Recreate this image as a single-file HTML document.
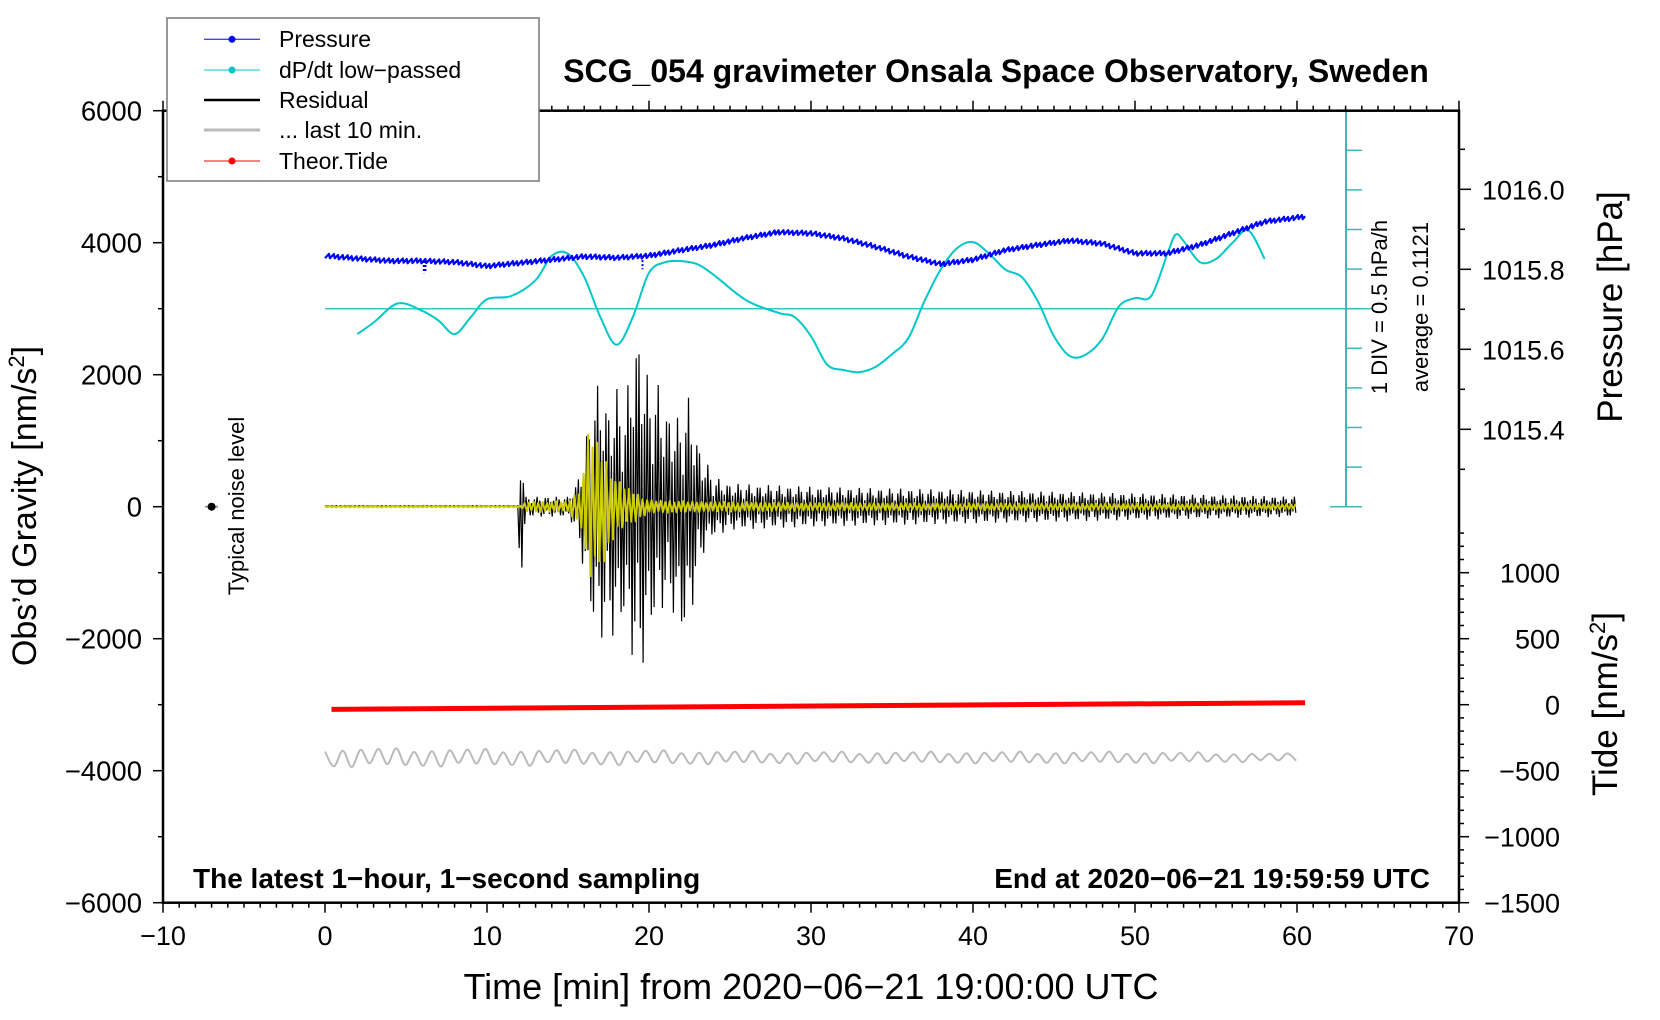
<!DOCTYPE html>
<html><head><meta charset="utf-8"><style>
html,body{margin:0;padding:0;background:#fff;}
svg{display:block;font-family:"Liberation Sans",sans-serif;}
</style></head><body>
<svg id="chart" width="1660" height="1020" viewBox="0 0 1660 1020">
<g id="marks"></g>
<g id="axes"></g>
</svg>
<script>
// ---- data ----
var presT = [0,2,4,6,8,10,12,14,16,18,20,22,24,26,28,30,32,34,36,38,40,42,44,46,48,50,52,54,56,58,60.5];
var presV = [1015.834,1015.827,1015.821,1015.821,1015.818,1015.808,1015.816,1015.824,1015.832,1015.829,1015.834,1015.848,1015.861,1015.879,1015.893,1015.890,1015.877,1015.856,1015.832,1015.813,1015.824,1015.848,1015.861,1015.872,1015.864,1015.840,1015.840,1015.861,1015.890,1015.919,1015.932];
var spikeT = [6.1,6.2,13.1,16.2,19.6];
var spikeV = [1015.790,1015.795,1015.810,1015.822,1015.800];
var dpT = [2,3,4.5,6,7,8,9,10,11.5,13,14,15,16,17,18,19,20,21,22,23,24,26,28,29,30,31,32,33,34,35,36,37,38,39,40,41,42,43,44,45,46,47,48,49,50,51,52,52.5,53,54,55,56,57,58];
var dpV = [-0.208,-0.062,0.179,0.085,-0.035,-0.208,0.005,0.232,0.272,0.472,0.780,0.806,0.513,0.005,-0.342,0.005,0.566,0.699,0.713,0.673,0.539,0.219,0.059,0.005,-0.235,-0.595,-0.662,-0.689,-0.622,-0.462,-0.262,0.206,0.606,0.873,0.953,0.806,0.606,0.513,0.206,-0.235,-0.489,-0.462,-0.262,0.139,0.246,0.272,0.806,1.047,0.967,0.700,0.740,0.940,1.100,0.740];
var resT  = [0,11.9,12.0,12.2,12.4,15,15.5,16,16.5,17,17.5,18,18.5,19,19.5,20,20.5,21,21.5,22,22.5,23,23.5,24,25,30,40,50,60];
var resUp = [15,15,900,700,150,150,350,800,1700,1900,1500,1800,1400,2500,2700,1800,1900,1500,1400,1300,1700,1000,700,450,350,300,250,200,150];
var resLo = [15,15,-1000,-900,-150,-150,-350,-1000,-1800,-2000,-1900,-2000,-1700,-2300,-2500,-2000,-1600,-1500,-1600,-2000,-1800,-1000,-600,-450,-350,-300,-250,-200,-150];
var yelT  = [0,12,12.5,15,15.8,16.3,17,18,19,20,23,30,60];
var yelA  = [10,10,80,80,300,1200,950,400,250,100,80,60,40];
var grayT = [0,5,10,20,30,40,50,60];
var grayA = [150,140,130,110,90,90,90,60];
var grayBase = -3800;
var tideT = [0.4,60.5];
var tideV = [-35,15];
var xTicks = [-10,0,10,20,30,40,50,60,70];
var gTicks = [6000,4000,2000,0,-2000,-4000,-6000];
var pTicks = [1016.0,1015.8,1015.6,1015.4];
var tTicks = [1000,500,0,-500,-1000,-1500];

// ---- scales ----
function X(t){return 163+(t+10)*16.2;}
function Yg(g){return 506.7-g*0.066;}
function Yp(p){return 189.3+(1016-p)*400;}
function Yd(v){return 308.7-(v-0.1121)/0.5*39.6;}
function Yt(v){return 704.7-v*0.132;}
function interp(ts,vs,t){if(t<=ts[0])return vs[0];for(var i=1;i<ts.length;i++){if(t<=ts[i]){var f=(t-ts[i-1])/(ts[i]-ts[i-1]);return vs[i-1]+f*(vs[i]-vs[i-1]);}}return vs[vs.length-1];}
var NS="http://www.w3.org/2000/svg";
var marks=document.getElementById('marks'), axes=document.getElementById('axes');
function el(tag,attrs,parent){var e=document.createElementNS(NS,tag);for(var k in attrs)e.setAttribute(k,attrs[k]);(parent||marks).appendChild(e);return e;}
function smooth(pts){var d='M'+pts[0][0].toFixed(1)+','+pts[0][1].toFixed(1);for(var i=0;i<pts.length-1;i++){var p0=pts[Math.max(i-1,0)],p1=pts[i],p2=pts[i+1],p3=pts[Math.min(i+2,pts.length-1)];d+=' C'+(p1[0]+(p2[0]-p0[0])/6).toFixed(1)+','+(p1[1]+(p2[1]-p0[1])/6).toFixed(1)+' '+(p2[0]-(p3[0]-p1[0])/6).toFixed(1)+','+(p2[1]-(p3[1]-p1[1])/6).toFixed(1)+' '+p2[0].toFixed(1)+','+p2[1].toFixed(1);}return d;}

// cyan center line
var cl=el('line',{x1:X(0),x2:1372,y1:Yd(0.1121),y2:Yd(0.1121),stroke:'#3cc4c4','stroke-width':1.5});



// cyan dP/dt
var dpPts=dpT.map(function(t,i){return [X(t),Yd(dpV[i])];});
var dp=el('path',{d:smooth(dpPts),fill:'none',stroke:'#00c8c8','stroke-width':2});



// pressure
var pPts=[],kk=0;for(var t=0;t<=60.5;t+=0.05){var w=((((kk*37)%17)/16)-0.5)*0.012;pPts.push(X(t).toFixed(1)+','+Yp(interp(presT,presV,t)+w).toFixed(1));kk++;}
var pr=el('polyline',{points:pPts.join(' '),fill:'none',stroke:'#0000ff','stroke-width':2.2,'stroke-linejoin':'round'});


spikeT.forEach(function(t,i){var s=el('line',{x1:X(t),x2:X(t),y1:Yp(interp(presT,presV,t)),y2:Yp(spikeV[i]),stroke:'#0000ff','stroke-width':2,'stroke-dasharray':'2,2'});

});

// residual black
var rPts=[],k=0;for(var t=0;t<=60;t+=0.085){var v=(k%2===0)?interp(resT,resUp,t):interp(resT,resLo,t);var m=0.35+0.65*Math.abs(((k*7)%11)/10-0.5)*2;rPts.push(X(t).toFixed(1)+','+Yg(v*m).toFixed(1));k++;}
var rs=el('polyline',{points:rPts.join(' '),fill:'none',stroke:'#000','stroke-width':1.2});



// yellow filtered
var yPts=[];k=0;for(var t=0;t<=60;t+=0.14){var a=interp(yelT,yelA,t);var m2=0.7+0.3*(((k*5)%7)/6);yPts.push(X(t).toFixed(1)+','+Yg((k%2?-1:1)*a*m2).toFixed(1));k++;}
var ys=el('polyline',{points:yPts.join(' '),fill:'none',stroke:'#cccc00','stroke-width':2,'stroke-linejoin':'round'});



// gray last 10 min
var gPts=[];k=0;for(var t=0;t<=60;t+=0.55){var a2=interp(grayT,grayA,t)*(0.6+0.4*(((k*3)%5)/4));gPts.push([X(t),Yg(grayBase+(k%2?-1:1)*a2)]);k++;}
var gs=el('path',{d:smooth(gPts),fill:'none',stroke:'#bbbbbb','stroke-width':2});



// tide
var td=el('line',{x1:X(tideT[0]),x2:X(tideT[1]),y1:Yt(tideV[0]),y2:Yt(tideV[1]),stroke:'#ff0000','stroke-width':5});



// noise marker
var nb=el('line',{x1:205,x2:218,y1:Yg(0),y2:Yg(0),stroke:'#999','stroke-width':2});


var nd=el('circle',{cx:X(-7),cy:Yg(0),r:4,fill:'#000'});



// cyan scale bar
var cs=el('line',{x1:1346,x2:1346,y1:Yd(0.1121+2.5),y2:Yd(0.1121-2.5),stroke:'#3cb8b8','stroke-width':2},axes);


for(var i=0;i<=10;i++){var yy=Yd(0.1121+2.5-i*0.5);var x1=(i===0||i===10)?1330:1346;var tk=el('line',{x1:x1,x2:1362,y1:yy,y2:yy,stroke:'#3cb8b8','stroke-width':1.5},axes);

}

// frame
var fr=el('rect',{x:163,y:110.7,width:1296,height:792,fill:'none',stroke:'#000','stroke-width':2.5},axes);


// x ticks
for(var t=-10;t<=70;t+=1){var maj=(t%10===0);var a=el('line',{x1:X(t),x2:X(t),y1:902.7,y2:902.7+(maj?10:5),stroke:'#000','stroke-width':1.5},axes);


var b=el('line',{x1:X(t),x2:X(t),y1:110.7,y2:110.7-(maj?10:5),stroke:'#000','stroke-width':1.5},axes);

}
xTicks.forEach(function(t){var tx=el('text',{x:X(t),y:945,'text-anchor':'middle','font-size':27},axes);tx.textContent=(t<0?'\u2212':'')+Math.abs(t);

});
// left ticks
for(var g=-6000;g<=6000;g+=1000){var maj=(g%2000===0);var a=el('line',{x1:163-(maj?10:5),x2:163,y1:Yg(g),y2:Yg(g),stroke:'#000','stroke-width':1.5},axes);

}
gTicks.forEach(function(g){var tx=el('text',{x:142,y:Yg(g)+10,'text-anchor':'end','font-size':27.5},axes);tx.textContent=(g<0?'\u2212':'')+Math.abs(g);

});
// right pressure ticks
for(var p=1016.2;p>=1015.2;p-=0.1){var yy=Yp(p);if(yy<112||yy>500)continue;var maj=Math.abs(Math.round(p*10)%2)===0;var a=el('line',{x1:1459,x2:1459+(maj?12:6),y1:yy,y2:yy,stroke:'#000','stroke-width':1.5},axes);

}
pTicks.forEach(function(p){var tx=el('text',{x:1482,y:Yp(p)+10,'font-size':27},axes);tx.textContent=p.toFixed(1);

});
// right tide ticks
for(var v=-1500;v<=1300;v+=100){var yy=Yt(v);if(yy<520)continue;var maj=(v%500===0);var a=el('line',{x1:1459,x2:1459+(maj?10:5),y1:yy,y2:yy,stroke:'#000','stroke-width':1.5},axes);

}
tTicks.forEach(function(v){var tx=el('text',{x:1560,y:Yt(v)+10,'text-anchor':'end','font-size':27},axes);tx.textContent=(v<0?'\u2212':'')+Math.abs(v);

});
</script>
<svg width="1660" height="1020" style="position:absolute;left:0;top:0">
<text x="996" y="82" text-anchor="middle" font-size="32" font-weight="bold">SCG_054 gravimeter Onsala Space Observatory, Sweden</text>
<text x="811" y="999" text-anchor="middle" font-size="36">Time [min] from 2020−06−21 19:00:00 UTC</text>
<text transform="translate(36,506) rotate(-90)" text-anchor="middle" font-size="34">Obs’d Gravity [nm/s<tspan font-size="22" dy="-12">2</tspan><tspan dy="12">]</tspan></text>
<text transform="translate(244,506) rotate(-90)" text-anchor="middle" font-size="22">Typical noise level</text>
<text transform="translate(1387,307) rotate(-90)" text-anchor="middle" font-size="22">1 DIV = 0.5 hPa/h</text>
<text transform="translate(1428,307) rotate(-90)" text-anchor="middle" font-size="22">average = 0.1121</text>
<text transform="translate(1622,307) rotate(-90)" text-anchor="middle" font-size="35">Pressure [hPa]</text>
<text transform="translate(1617,704) rotate(-90)" text-anchor="middle" font-size="35">Tide [nm/s<tspan font-size="22" dy="-12">2</tspan><tspan dy="12">]</tspan></text>
<text x="193" y="888" font-size="28" font-weight="bold">The latest 1−hour, 1−second sampling</text>
<text x="1430" y="888" text-anchor="end" font-size="28" font-weight="bold">End at 2020−06−21 19:59:59 UTC</text>
<g>
<rect x="167" y="18" width="372" height="163" fill="#fff" stroke="#777" stroke-width="1.5"/>
<g><line x1="204" x2="260" y1="39.3" y2="39.3" stroke="#0000ff" stroke-width="1"/><circle cx="232" cy="39.3" r="3.5" fill="#0000ff"/><text x="279" y="47" font-size="23">Pressure</text></g>
<g><line x1="204" x2="260" y1="70" y2="70" stroke="#00c8c8" stroke-width="1"/><circle cx="232" cy="70" r="3.5" fill="#00c8c8"/><text x="279" y="78" font-size="23">dP/dt low−passed</text></g>
<g><line x1="204" x2="260" y1="100" y2="100" stroke="#000" stroke-width="2.5"/><text x="279" y="108" font-size="23">Residual</text></g>
<g><line x1="204" x2="260" y1="130" y2="130" stroke="#bbb" stroke-width="3"/><text x="279" y="138" font-size="23">... last 10 min.</text></g>
<g><line x1="204" x2="260" y1="161" y2="161" stroke="#ff0000" stroke-width="1"/><circle cx="232" cy="161" r="3.5" fill="#ff0000"/><text x="279" y="169" font-size="23">Theor.Tide</text></g>
</g>
</svg>
</body></html>
